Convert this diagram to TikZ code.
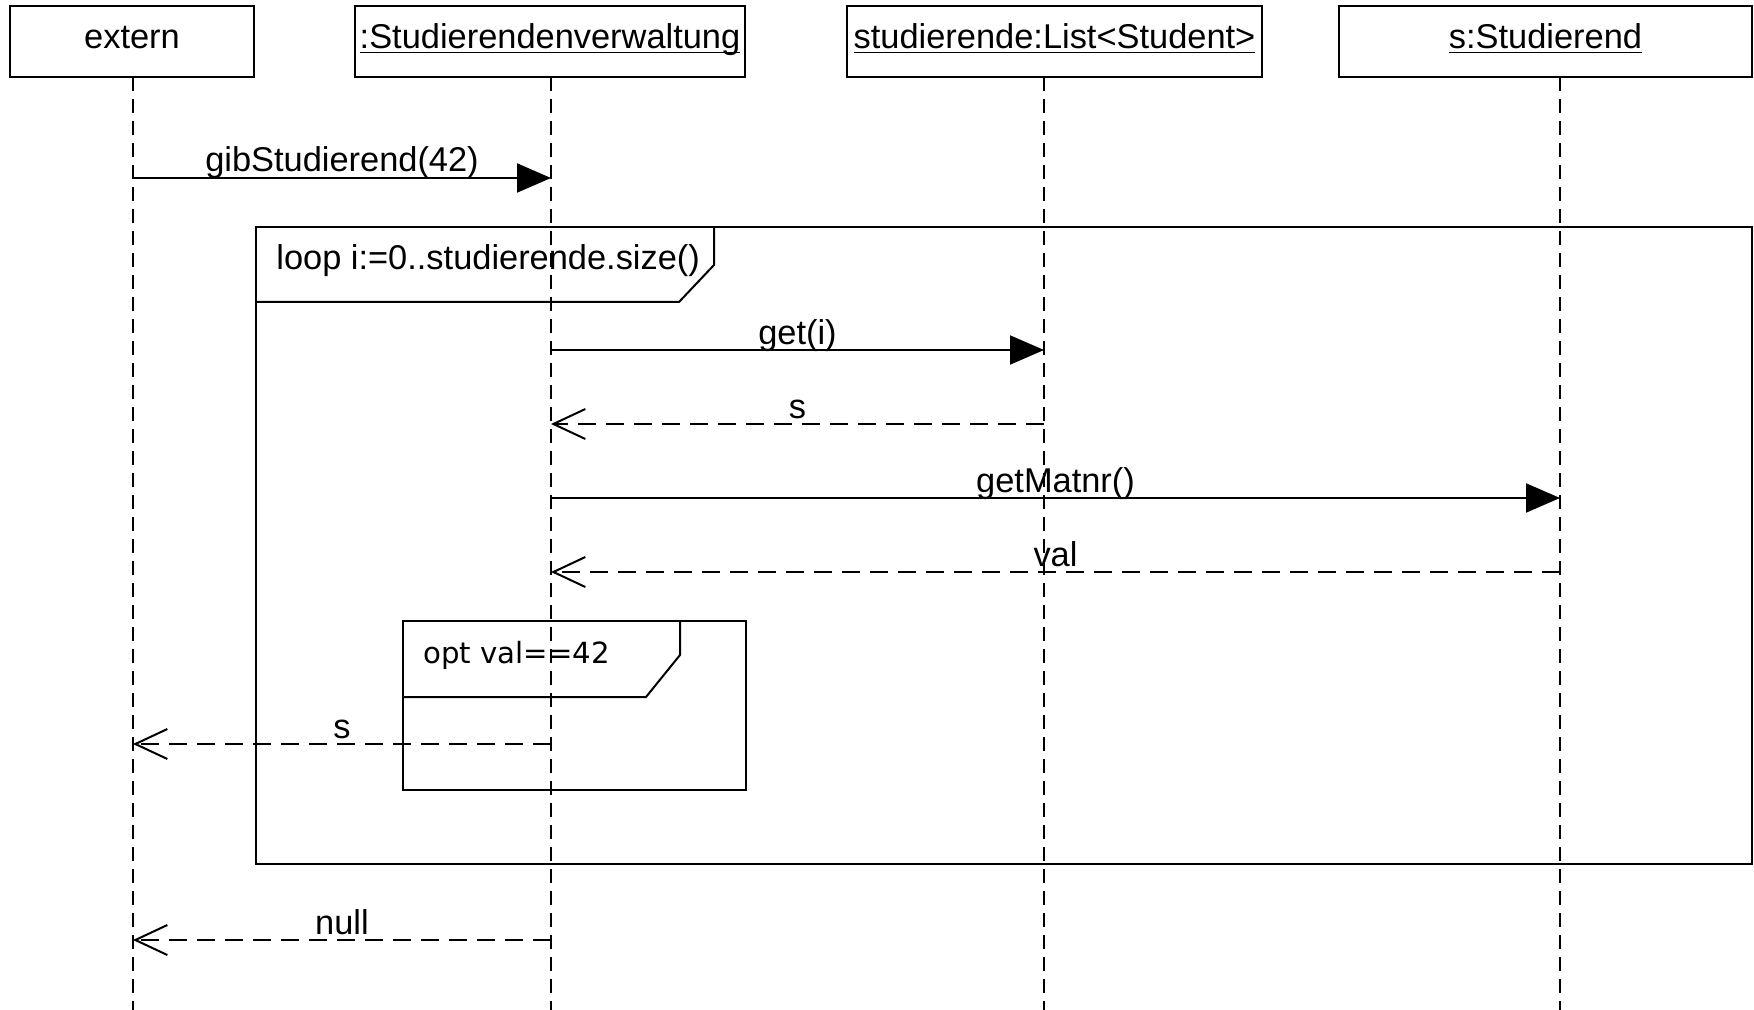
\documentclass[tikz,border=0pt]{standalone}
\usepackage{fontspec}
\setmainfont{Liberation Sans}
\newfontfamily\optfont{DejaVu Sans}
\usetikzlibrary{arrows.meta}
\newcommand\myul[1]{\sbox0{#1}\rlap{\rule[-2.2pt]{\wd0}{0.7pt}}\usebox0}
\begin{document}
\begin{tikzpicture}[x=0.5pt,y=-0.5pt,
  every node/.style={font=\fontsize{17.2}{20}\selectfont},
  head/.style={draw, line width=1pt, minimum width=#1, minimum height=35.5pt,
    inner sep=0pt, text height=12pt, text depth=4.5pt},
  life/.style={line width=0.9pt, dash pattern=on 7pt off 4pt},
  msg/.style={line width=1pt, -{Triangle[length=17pt,width=14.5pt]}},
  ret/.style={line width=1pt, dash pattern=on 9pt off 5pt,
    -{Straight Barb[length=16pt,width=15pt,line width=1pt]}},
  frame/.style={line width=1pt},
  lbl/.style={inner sep=0pt, anchor=base, yshift=3pt},
  flbl/.style={inner sep=0pt, anchor=base west}]
\useasboundingbox (0,0) rectangle (1754,1010);

% header boxes
\node[head=122pt] (ext) at (132,41.5) {extern};
\node[head=195pt] (sv) at (550,41.5) {\myul{:Studierendenverwaltung}};
\node[head=207.5pt] (li) at (1054.5,41.5) {\myul{studierende:List<Student>}};
\node[head=206.5pt] (st) at (1545.5,41.5) {\myul{s:Studierend}};

% lifeline ends
\coordinate (lE) at (133,77);   \coordinate (lEb) at (133,1010);
\coordinate (lS) at (551,77);   \coordinate (lSb) at (551,1010);
\coordinate (lL) at (1044,77);  \coordinate (lLb) at (1044,1010);
\coordinate (lT) at (1560,77);  \coordinate (lTb) at (1560,1010);

% loop frame
\draw[frame] (256,227) rectangle (1752,864);
\draw[frame] (256,302) -- (679,302) -- (714,265) -- (714,227);
\node[flbl] (looplbl) at (276,270) {loop i:=0..studierende.size()};

% opt frame
\draw[frame] (403,621) rectangle (746,790);
\draw[frame] (403,697) -- (646,697) -- (680,655) -- (680,621);
\node[flbl, font=\optfont\fontsize{14.6}{18}\selectfont] (optlbl) at (423,663) {opt val==42};

% lifelines
\draw[life] (lE) -- (lEb);
\draw[life] (lS) -- (lSb);
\draw[life] (lL) -- (lLb);
\draw[life] (lT) -- (lTb);

% messages
\draw[msg] (lE |- 0,178) -- node[lbl] (m1) {gibStudierend(42)} (lS |- 0,178);
\draw[msg] (lS |- 0,350) -- node[lbl] (m2) {get(i)} (lL |- 0,350);
\draw[ret] (lL |- 0,424) -- node[lbl] (m3) {s} (lS |- 0,424);
\draw[msg] (lS |- 0,498) -- node[lbl] (m4) {getMatnr()} (lT |- 0,498);
\draw[ret] (lT |- 0,572) -- node[lbl] (m5) {val} (lS |- 0,572);
\draw[ret] (lS |- 0,744) -- node[lbl] (m6) {s} (lE |- 0,744);
\draw[ret] (lS |- 0,940) -- node[lbl] (m7) {null} (lE |- 0,940);
\end{tikzpicture}
\end{document}
